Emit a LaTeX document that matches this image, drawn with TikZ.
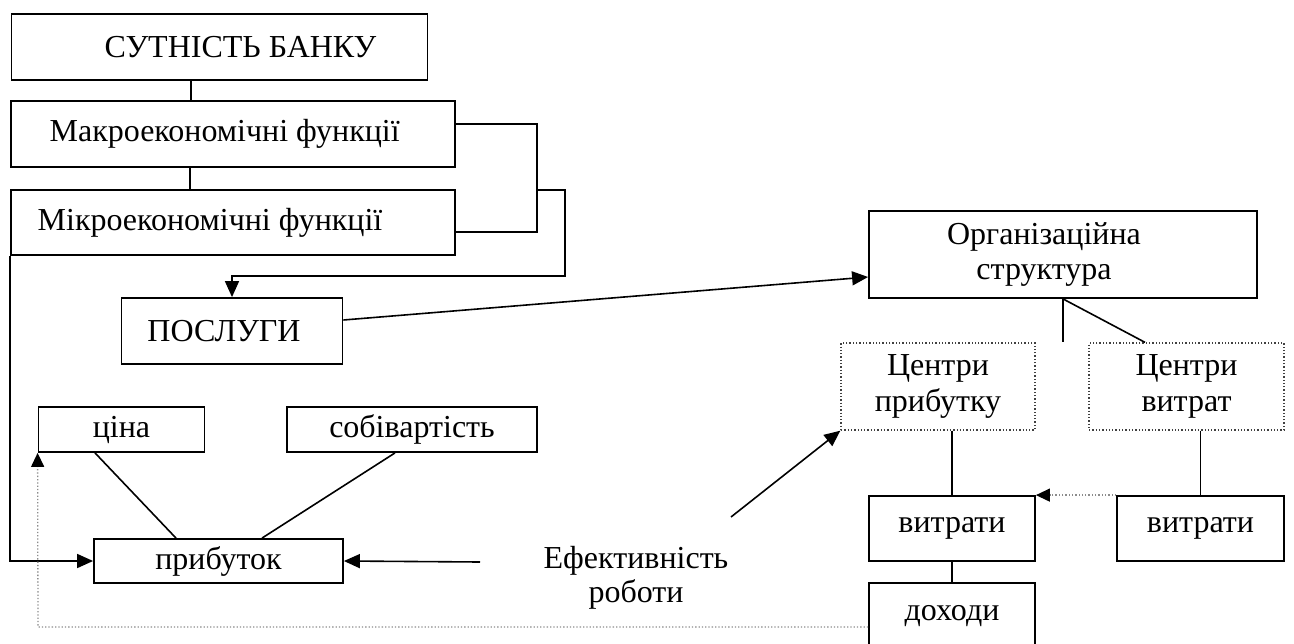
\documentclass[tikz,border=0pt]{standalone}
\usepackage{fontspec}
\setmainfont{Liberation Serif}
\usetikzlibrary{arrows.meta}
\begin{document}
\begin{tikzpicture}[x=1pt,y=-1pt,
  box/.style={draw, line width=1.8pt, inner sep=0pt, align=center,
    font=\fontsize{32}{35}\selectfont},
  dbox/.style={draw=black!75, dotted, line width=1.3pt, inner sep=0pt, align=center,
    font=\fontsize{32}{36}\selectfont},
  txt/.style={inner sep=0pt, align=center, font=\fontsize{32}{34}\selectfont},
  ln/.style={line width=1.6pt},
  arr/.style={line width=1.6pt, -{Triangle[length=16pt,width=14pt]}},
  dotarr/.style={draw=black!45, dotted, line width=1.3pt, -{Triangle[length=14pt,width=13pt,color=black,fill=black]}}
]
\useasboundingbox (0,0) rectangle (1294,643);

% nodes
\node[box, minimum width=416pt, minimum height=66pt] (sut) at (219.5,47) {\hspace*{42pt}СУТНІСТЬ БАНКУ};
\node[box, minimum width=444pt, minimum height=66pt] (makro) at (232.7,134) {Макроекономічні функції\hspace*{16pt}};
\node[box, minimum width=444pt, minimum height=65pt] (mikro) at (233,222.5) {Мікроекономічні функції\hspace*{46pt}};
\node[box, minimum width=221pt, minimum height=66pt] (posl) at (232,331) {ПОСЛУГИ\hspace*{16pt}};
\node[box, minimum width=166pt, minimum height=45pt] (cina) at (121.5,429.5) {ціна};
\node[box, minimum width=250pt, minimum height=45pt] (sobi) at (412,429.5) {собівартість};
\node[box, minimum width=249pt, minimum height=44pt] (prib) at (218.5,561) {прибуток};
\node[box, minimum width=388pt, minimum height=87pt] (org) at (1063,254.5) {Організаційна\hspace*{38pt}\\структура\hspace*{38pt}};
\node[dbox, minimum width=194pt, minimum height=87pt] (cp) at (938,386.5) {Центри\\прибутку};
\node[dbox, minimum width=195pt, minimum height=87pt] (cv) at (1186.5,386.5) {Центри\\витрат};
\node[box, minimum width=166pt, minimum height=65pt] (vl) at (952,528.5) {витрати};
\node[box, minimum width=167pt, minimum height=65pt] (vr) at (1200.5,528.5) {витрати};
\node[box, minimum width=166pt, minimum height=67pt] (doh) at (952,616.5) {доходи};
\node[txt] (eff) at (636,578) {Ефективність\\роботи};

% helper coordinates
\coordinate (x191) at (191,0);
\coordinate (x190) at (190,0);
\coordinate (b1) at (537,232);
\coordinate (b2) at (537,190);
\coordinate (b3) at (565,276);
\coordinate (e1) at (480,562);
\coordinate (e2) at (731,517);
\coordinate (ov) at (1063,342);
\coordinate (dl) at (38,627);

% connectors
\draw[ln] (sut.south -| x191) -- (makro.north -| x191);
\draw[ln] (makro.south -| x190) -- (mikro.north -| x190);
\draw[ln] ([yshift=10pt]makro.east) -| (b1) -- (b1 -| mikro.east);
\draw[arr] (b2) -| (b3) -| (posl.north);
\draw[arr] (mikro.south west) |- (prib.west);
\draw[arr] (e1) -- (prib.east);
\draw[ln] ([xshift=-26.5pt]cina.south) -- ([xshift=-42.5pt]prib.north);
\draw[ln] ([xshift=-17pt]sobi.south) -- ([xshift=43.5pt]prib.north);
\draw[arr] ([yshift=11pt]posl.east) -- ([yshift=-22.5pt]org.west);
\draw[ln] (org.south) -- (ov);
\draw[ln] (org.south) -- ([xshift=-41.5pt]cv.north);
\draw[ln] (cp.south -| vl.north) -- (vl.north);
\draw[ln] (cv.south -| vr.north) -- (vr.north);
\draw[ln] (vl.south) -- (doh.north);
\draw[arr] (e2) -- (cp.south west);
\draw[dotarr] (vr.north west) -- (vl.north east);
\draw[dotarr] ([yshift=-10.5pt]doh.west) -- (dl) -- (cina.south west);
\end{tikzpicture}
\end{document}
